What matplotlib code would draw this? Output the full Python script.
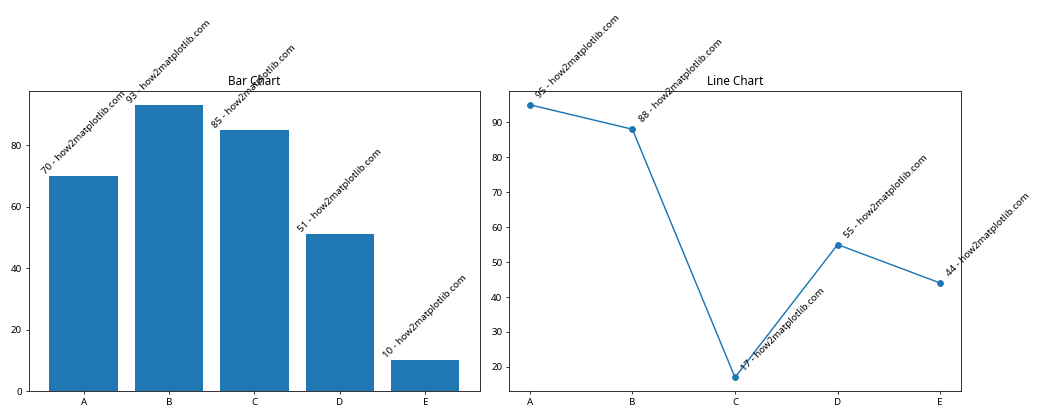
import matplotlib.pyplot as plt

plt.rcParams['font.family'] = ['Noto Sans', 'DejaVu Sans']

categories = ['A', 'B', 'C', 'D', 'E']
bar_values = [70, 93, 85, 51, 10]
line_values = [95, 88, 17, 55, 44]
site = 'how2matplotlib.com'

fig = plt.figure(figsize=(15, 6), dpi=70)
ax1 = fig.add_axes([0.0276, 0.069, 0.4295, 0.714])
ax2 = fig.add_axes([0.485, 0.069, 0.430, 0.714])

# Bar chart
bars = ax1.bar(categories, bar_values)
ax1.set_title('Bar Chart')
for bar, v in zip(bars, bar_values):
    ax1.text(bar.get_x() + bar.get_width() / 2, bar.get_height(),
             f'{v} - {site}', ha='center', va='bottom', rotation=45)

# Line chart
ax2.plot(categories, line_values, marker='o')
ax2.set_title('Line Chart')
for i, v in enumerate(line_values):
    ax2.annotate(f'{v} - {site}', (i, v), xytext=(5, 5),
                 textcoords='offset points', ha='left', va='bottom', rotation=45)

fig.savefig('out.png', dpi=70)
